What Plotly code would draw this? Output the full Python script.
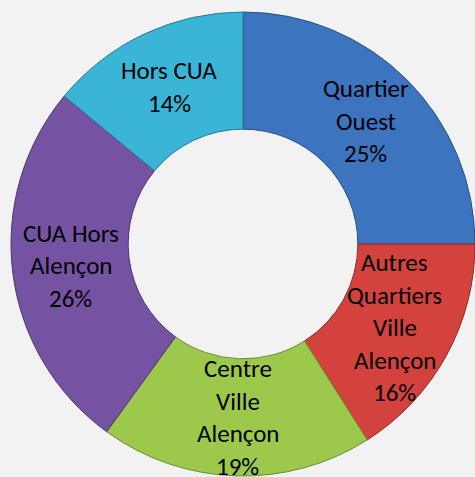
import math
import plotly.graph_objects as go

categories = ["Quartier Ouest", "Autres Quartiers Ville Alençon", "Centre Ville Alençon",
              "CUA Hors Alençon", "Hors CUA"]
label_lines = [["Quartier", "Ouest"], ["Autres", "Quartiers", "Ville", "Alençon"],
               ["Centre", "Ville", "Alençon"], ["CUA Hors", "Alençon"], ["Hors CUA"]]
values = [25, 16, 19, 26, 14]
colors = ["#3c74c0", "#d4423e", "#9cc84b", "#7652a2", "#3ab4d7"]
edge_colors = ["#284f86", "#8f2b28", "#6a8a30", "#4f366e", "#257a93"]

W, H = 475, 477
cx, cy, R = 243, 244, 232
hole = 0.495
line_h = 32.5
font = dict(family="Carlito, Lato, sans-serif", size=25, color="#000000")

fig = go.Figure(go.Pie(
    labels=categories, values=values, sort=False, direction="clockwise", rotation=0,
    hole=hole, textinfo="none", hoverinfo="label+percent",
    marker=dict(colors=colors, line=dict(color=edge_colors, width=1)),
    domain=dict(x=[(cx - R) / W, (cx + R) / W], y=[1 - (cy + R) / H, 1 - (cy - R) / H]),
    showlegend=False,
))

total = sum(values)
cum = 0
annotations = []
r_lab = (hole + 1) / 2 * R
for lines, v in zip(label_lines, values):
    mid = (cum + v / 2) / total * 2 * math.pi
    cum += v
    lx = cx + r_lab * math.sin(mid)
    ly = cy - r_lab * math.cos(mid)
    all_lines = lines + [f"{round(v / total * 100)}%"]
    n = len(all_lines)
    for i, t in enumerate(all_lines):
        py = ly + (i - (n - 1) / 2) * line_h
        annotations.append(dict(text=t, x=lx / W, y=1 - py / H, xref="paper", yref="paper",
                                showarrow=False, font=font, xanchor="center", yanchor="middle"))

fig.update_layout(width=W, height=H, margin=dict(l=0, r=0, t=0, b=0),
                  paper_bgcolor="#f2f2f2", plot_bgcolor="#f2f2f2", annotations=annotations)
fig.write_html("out.html", config={"displayModeBar": False},
               post_script="document.body.style.margin='0';document.body.style.background='#f2f2f2';")
